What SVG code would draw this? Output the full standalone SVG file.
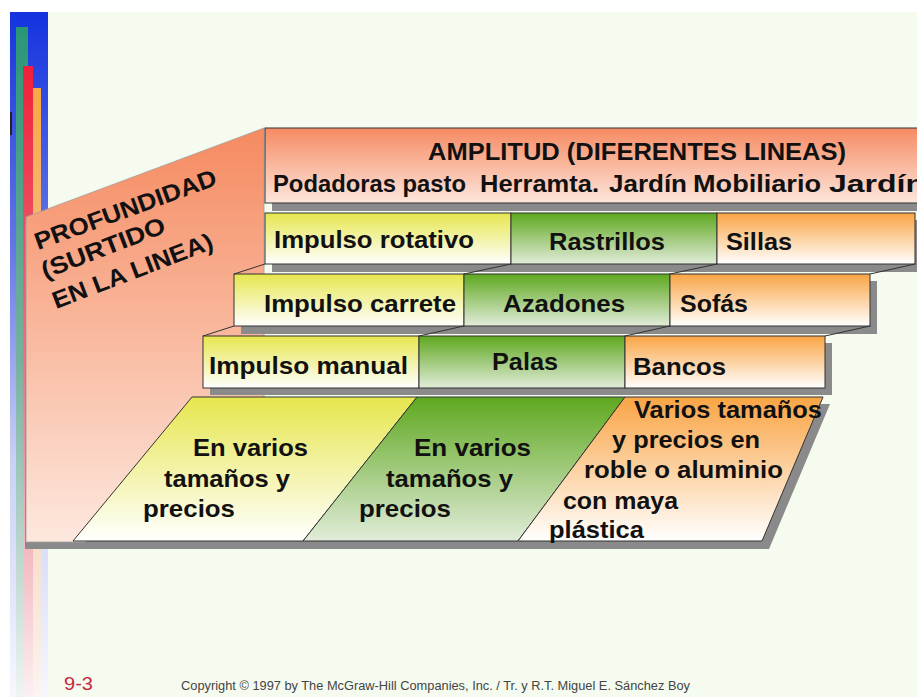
<svg xmlns="http://www.w3.org/2000/svg" width="917" height="697" viewBox="0 0 917 697">
<defs>
<style>
.t{font-family:"Liberation Sans",Arial,sans-serif;font-weight:bold;font-size:24px;fill:#111}
.cell{stroke:#333;stroke-width:1}
.sh{fill:#8a8a8a}
.ln{stroke:#333;stroke-width:1;fill:none}
</style>
<linearGradient id="gBlue" gradientUnits="userSpaceOnUse" x1="0" y1="12" x2="0" y2="697">
<stop offset="0" stop-color="#1433df"/><stop offset="0.35" stop-color="#6678e6"/><stop offset="0.65" stop-color="#c8d0f5"/><stop offset="1" stop-color="#f6f7fe"/>
</linearGradient>
<linearGradient id="gGreenBar" gradientUnits="userSpaceOnUse" x1="0" y1="27" x2="0" y2="697">
<stop offset="0" stop-color="#2a9676"/><stop offset="0.5" stop-color="#78b0a0"/><stop offset="1" stop-color="#eef4f2"/>
</linearGradient>
<linearGradient id="gRedBar" gradientUnits="userSpaceOnUse" x1="0" y1="66" x2="0" y2="697">
<stop offset="0" stop-color="#f0203a"/><stop offset="0.5" stop-color="#ea7a88"/><stop offset="1" stop-color="#fbf0f2"/>
</linearGradient>
<linearGradient id="gOrBar" gradientUnits="userSpaceOnUse" x1="0" y1="88" x2="0" y2="697">
<stop offset="0" stop-color="#f8a844"/><stop offset="0.5" stop-color="#f4c8a8"/><stop offset="1" stop-color="#fbf4f0"/>
</linearGradient>
<linearGradient id="gSalmon" x1="0" y1="0" x2="0" y2="1">
<stop offset="0" stop-color="#f58a60"/><stop offset="1" stop-color="#fde8de"/>
</linearGradient>
<linearGradient id="gHead" x1="0" y1="0" x2="0" y2="1">
<stop offset="0" stop-color="#f68a62"/><stop offset="1" stop-color="#fde6dc"/>
</linearGradient>
<linearGradient id="gY" x1="0" y1="0" x2="0" y2="1">
<stop offset="0" stop-color="#e6e64e"/><stop offset="1" stop-color="#ffffff"/>
</linearGradient>
<linearGradient id="gG" x1="0" y1="0" x2="0" y2="1">
<stop offset="0" stop-color="#5ea81e"/><stop offset="1" stop-color="#e2ecda"/>
</linearGradient>
<linearGradient id="gO" x1="0" y1="0" x2="0" y2="1">
<stop offset="0" stop-color="#f9a444"/><stop offset="1" stop-color="#ffffff"/>
</linearGradient>
</defs>

<rect x="0" y="0" width="917" height="697" fill="#ffffff"/>
<rect x="10" y="12" width="907" height="685" fill="#f5fbef"/>

<g id="side-bars">
<rect x="10" y="12" width="38" height="685" fill="url(#gBlue)"/>
<rect x="16" y="27" width="12" height="670" fill="url(#gGreenBar)"/>
<rect x="23" y="66" width="10" height="631" fill="url(#gRedBar)"/>
<rect x="33" y="88" width="8" height="609" fill="url(#gOrBar)"/>
<rect x="10" y="112" width="2" height="23" fill="#222"/>
</g>

<g id="profundidad">
<polygon class="sh" points="25,224 263,135 263,549 25,549"/>
<polygon points="26,217 264,128 264,542 26,542" fill="url(#gSalmon)" stroke="#a0a0a0" stroke-width="0.8"/>
<text class="t" transform="translate(38,250) rotate(-20)" textLength="192" lengthAdjust="spacingAndGlyphs">PROFUNDIDAD</text>
<text class="t" transform="translate(45,279) rotate(-21)" textLength="131" lengthAdjust="spacingAndGlyphs">(SURTIDO</text>
<text class="t" transform="translate(56,309) rotate(-21)" textLength="170" lengthAdjust="spacingAndGlyphs">EN LA LINEA)</text>
</g>

<g id="amplitud">
<rect class="sh" x="272" y="135" width="660" height="76"/>
<rect class="cell" x="265" y="128" width="660" height="75" fill="url(#gHead)"/>
<text class="t" x="428" y="160" textLength="418" lengthAdjust="spacingAndGlyphs">AMPLITUD (DIFERENTES LINEAS)</text>
<text class="t" y="192"><tspan x="273" textLength="193" lengthAdjust="spacingAndGlyphs">Podadoras pasto</tspan><tspan x="480" textLength="119" lengthAdjust="spacingAndGlyphs">Herramta.</tspan><tspan x="609" textLength="78" lengthAdjust="spacingAndGlyphs">Jardín</tspan><tspan x="693" textLength="128" lengthAdjust="spacingAndGlyphs">Mobiliario</tspan><tspan x="829" textLength="96" lengthAdjust="spacingAndGlyphs">Jardín</tspan></text>
</g>

<g id="row-shadows">
<rect class="sh" x="272" y="220" width="650" height="52"/>
<rect class="sh" x="241" y="281" width="636" height="53"/>
<rect class="sh" x="210" y="343" width="622" height="52"/>
</g>

<g id="impulso-rotativo">
<rect class="cell" x="265" y="213" width="246" height="51" fill="url(#gY)"/>
<text class="t" x="274" y="248" textLength="200" lengthAdjust="spacingAndGlyphs">Impulso rotativo</text>
</g>
<g id="rastrillos">
<rect class="cell" x="511" y="213" width="206" height="51" fill="url(#gG)"/>
<text class="t" x="549" y="250" textLength="116" lengthAdjust="spacingAndGlyphs">Rastrillos</text>
</g>
<g id="sillas">
<rect class="cell" x="717" y="213" width="198" height="51" fill="url(#gO)"/>
<text class="t" x="726" y="250" textLength="66" lengthAdjust="spacingAndGlyphs">Sillas</text>
</g>

<g id="impulso-carrete">
<rect class="cell" x="234" y="274" width="230" height="52" fill="url(#gY)"/>
<text class="t" x="264" y="312" textLength="192" lengthAdjust="spacingAndGlyphs">Impulso carrete</text>
</g>
<g id="azadones">
<rect class="cell" x="464" y="274" width="206" height="52" fill="url(#gG)"/>
<text class="t" x="503" y="312" textLength="122" lengthAdjust="spacingAndGlyphs">Azadones</text>
</g>
<g id="sofas">
<rect class="cell" x="670" y="274" width="200" height="52" fill="url(#gO)"/>
<text class="t" x="680" y="312" textLength="68" lengthAdjust="spacingAndGlyphs">Sofás</text>
</g>

<g id="impulso-manual">
<rect class="cell" x="203" y="336" width="216" height="52" fill="url(#gY)"/>
<text class="t" x="209" y="374" textLength="199" lengthAdjust="spacingAndGlyphs">Impulso manual</text>
</g>
<g id="palas">
<rect class="cell" x="419" y="336" width="206" height="52" fill="url(#gG)"/>
<text class="t" x="492" y="370" textLength="66" lengthAdjust="spacingAndGlyphs">Palas</text>
</g>
<g id="bancos">
<rect class="cell" x="625" y="336" width="200" height="52" fill="url(#gO)"/>
<text class="t" x="633" y="375" textLength="93" lengthAdjust="spacingAndGlyphs">Bancos</text>
</g>

<g id="bottom-shadow">
<polygon class="sh" points="199,404 830,404 769,549 80,549"/>
</g>

<g id="tamanos-cortadoras">
<polygon class="cell" points="192,397 417,397 303,541 73,541" fill="url(#gY)"/>
<text class="t" x="193" y="456" textLength="115" lengthAdjust="spacingAndGlyphs">En varios</text>
<text class="t" x="164" y="487" textLength="126" lengthAdjust="spacingAndGlyphs">tamaños y</text>
<text class="t" x="143" y="517" textLength="92" lengthAdjust="spacingAndGlyphs">precios</text>
</g>
<g id="tamanos-herramientas">
<polygon class="cell" points="417,397 625,397 518,541 303,541" fill="url(#gG)"/>
<text class="t" x="414" y="456" textLength="117" lengthAdjust="spacingAndGlyphs">En varios</text>
<text class="t" x="386" y="487" textLength="127" lengthAdjust="spacingAndGlyphs">tamaños y</text>
<text class="t" x="359" y="517" textLength="92" lengthAdjust="spacingAndGlyphs">precios</text>
</g>
<g id="tamanos-mobiliario">
<polygon class="cell" points="625,397 823,397 762,541 518,541" fill="url(#gO)"/>
<text class="t" x="634" y="418" textLength="188" lengthAdjust="spacingAndGlyphs">Varios tamaños</text>
<text class="t" x="612" y="448" textLength="148" lengthAdjust="spacingAndGlyphs">y precios en</text>
<text class="t" x="584" y="478" textLength="199" lengthAdjust="spacingAndGlyphs">roble o aluminio</text>
<text class="t" x="563" y="509" textLength="115" lengthAdjust="spacingAndGlyphs">con maya</text>
<text class="t" x="549" y="538" textLength="95" lengthAdjust="spacingAndGlyphs">plástica</text>
</g>

<g id="connectors">
<line class="ln" x1="265" y1="264" x2="234" y2="274"/>
<line class="ln" x1="511" y1="264" x2="464" y2="274"/>
<line class="ln" x1="717" y1="264" x2="670" y2="274"/>
<line class="ln" x1="915" y1="264" x2="870" y2="274"/>
<line class="ln" x1="234" y1="326" x2="203" y2="336"/>
<line class="ln" x1="464" y1="326" x2="419" y2="336"/>
<line class="ln" x1="670" y1="326" x2="625" y2="336"/>
<line class="ln" x1="870" y1="326" x2="825" y2="336"/>
</g>

<g id="footer">
<text x="64" y="690" font-family="'Liberation Sans',Arial,sans-serif" font-size="18" fill="#c8283c" textLength="29" lengthAdjust="spacingAndGlyphs">9-3</text>
<text x="181" y="690" font-family="'Liberation Sans',Arial,sans-serif" font-size="12.5" fill="#444" textLength="509" lengthAdjust="spacingAndGlyphs">Copyright © 1997 by The McGraw-Hill  Companies, Inc. / Tr.  y R.T. Miguel E. Sánchez Boy</text>
</g>
</svg>
